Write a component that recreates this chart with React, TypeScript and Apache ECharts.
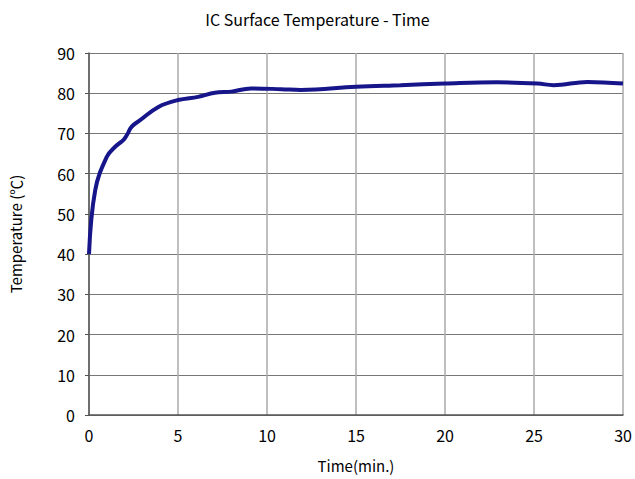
import React, { useEffect, useRef } from "react";
import * as echarts from "echarts";

const timeMin = [0, 0.35, 1.0, 1.47, 1.94, 2.13, 2.4, 2.87, 3.9, 5.0, 6.13, 7.07, 8.0, 9.1, 10.8, 11.9, 15.0, 17.5, 20.0, 22.9, 25.2, 26.1, 28.0, 30.0];
const tempC = [40, 55.9, 64.2, 66.7, 68.4, 69.6, 71.7, 73.3, 76.6, 78.3, 79.1, 80.1, 80.4, 81.2, 81.0, 80.8, 81.6, 82.0, 82.4, 82.7, 82.4, 82.0, 82.8, 82.4];

const FONT = "'Noto Sans CJK JP', 'Noto Sans', sans-serif";

export default function App() {
  const ref = useRef<HTMLDivElement>(null);
  useEffect(() => {
    document.body.style.margin = "0";
    const chart = echarts.init(ref.current!, null, { renderer: "svg" });
    chart.setOption({
      animation: false,
      backgroundColor: "#ffffff",
      title: {
        text: "IC Surface Temperature - Time",
        left: "center",
        top: 6,
        textStyle: { fontFamily: FONT, fontSize: 16, fontWeight: "normal", color: "#000" },
      },
      grid: { left: 87, right: 12, top: 53, bottom: 64, containLabel: false },
      xAxis: {
        type: "value",
        min: 0,
        max: 30,
        interval: 5,
        name: "Time(min.)",
        nameLocation: "middle",
        nameGap: 43,
        nameTextStyle: { fontFamily: FONT, fontSize: 15, color: "#000" },
        axisLine: { show: true, lineStyle: { color: "#555", width: 1.5 } },
        axisTick: { show: false },
        axisLabel: { fontFamily: FONT, fontSize: 16, color: "#000", margin: 12 },
        splitLine: { show: true, lineStyle: { color: "#aaa", width: 1.5 } },
      },
      yAxis: {
        type: "value",
        min: 0,
        max: 90,
        interval: 10,
        name: "Temperature (℃)",
        nameLocation: "middle",
        nameGap: 66,
        nameRotate: 90,
        nameTextStyle: { fontFamily: FONT, fontSize: 15, color: "#000" },
        axisLine: { show: true, lineStyle: { color: "#555", width: 1.5 } },
        axisTick: { show: true, length: 4, lineStyle: { color: "#555" } },
        axisLabel: { fontFamily: FONT, fontSize: 16, color: "#000", margin: 14 },
        splitLine: { show: true, lineStyle: { color: "#777", width: 1.2 } },
      },
      series: [
        {
          type: "line",
          data: timeMin.map((t, i) => [t, tempC[i]]),
          smooth: 0.4,
          showSymbol: false,
          lineStyle: { color: "#16168a", width: 4 },
        },
      ],
    });
    return () => chart.dispose();
  }, []);
  return <div ref={ref} style={{ width: 635, height: 479 }} />;
}
